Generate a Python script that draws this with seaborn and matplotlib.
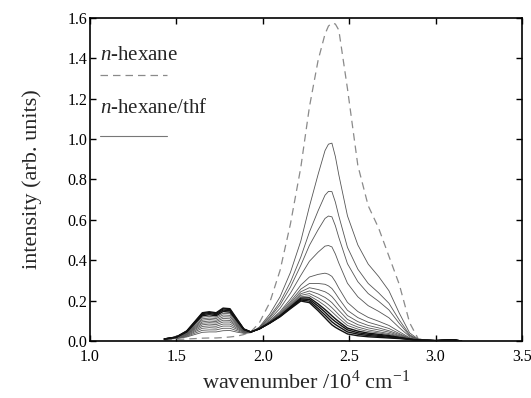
import numpy as np
import pandas as pd
import matplotlib
matplotlib.use("Agg")
import matplotlib.pyplot as plt
import seaborn as sns

# wavenumber grid (10^4 cm^-1)
wavenumber = [1.43, 1.50, 1.56, 1.61, 1.65, 1.69, 1.73, 1.77, 1.81, 1.85, 1.89, 1.93,
              1.98, 2.04, 2.10, 2.16, 2.22, 2.27, 2.32, 2.36, 2.38, 2.40, 2.42, 2.44,
              2.49, 2.55, 2.61, 2.67, 2.73, 2.79, 2.85, 2.90, 3.00, 3.10, 3.15]

# n-hexane (dashed)
hexane = [0.005, 0.008, 0.010, 0.012, 0.014, 0.015, 0.015, 0.017, 0.020, 0.024, 0.032, 0.045,
          0.09, 0.19, 0.35, 0.58, 0.86, 1.16, 1.39, 1.52, 1.56, 1.575, 1.57, 1.54,
          1.25, 0.87, 0.67, 0.56, 0.42, 0.28, 0.09, 0.01, 0.003, 0.0, 0.0]

# n-hexane/thf series (solid), from highest 2.4 peak down to the thick black one
thf_1 = [0.008, 0.012, 0.020, 0.033, 0.043, 0.045, 0.045, 0.051, 0.052, 0.044, 0.038, 0.041,
         0.069, 0.133, 0.219, 0.340, 0.495, 0.667, 0.825, 0.943, 0.975, 0.980, 0.914, 0.823,
         0.620, 0.476, 0.381, 0.320, 0.249, 0.138, 0.040, 0.009, 0.002, 0.006, 0.0]
thf_2 = [0.009, 0.013, 0.023, 0.040, 0.053, 0.055, 0.055, 0.063, 0.063, 0.051, 0.040, 0.042,
         0.067, 0.121, 0.193, 0.292, 0.416, 0.540, 0.645, 0.722, 0.741, 0.740, 0.688, 0.619,
         0.464, 0.356, 0.285, 0.239, 0.187, 0.104, 0.031, 0.007, 0.002, 0.006, 0.0]
thf_3 = [0.009, 0.014, 0.026, 0.047, 0.063, 0.066, 0.064, 0.074, 0.074, 0.058, 0.043, 0.042,
         0.065, 0.115, 0.179, 0.267, 0.375, 0.474, 0.551, 0.607, 0.619, 0.615, 0.571, 0.513,
         0.383, 0.294, 0.235, 0.197, 0.154, 0.087, 0.027, 0.007, 0.002, 0.006, 0.0]
thf_4 = [0.009, 0.015, 0.029, 0.053, 0.072, 0.075, 0.073, 0.084, 0.084, 0.064, 0.045, 0.042,
         0.064, 0.107, 0.162, 0.237, 0.325, 0.395, 0.440, 0.470, 0.473, 0.466, 0.431, 0.386,
         0.286, 0.219, 0.175, 0.147, 0.115, 0.066, 0.022, 0.006, 0.002, 0.006, 0.0]
thf_5 = [0.009, 0.015, 0.032, 0.059, 0.080, 0.084, 0.081, 0.094, 0.094, 0.070, 0.047, 0.043,
         0.062, 0.100, 0.146, 0.208, 0.277, 0.317, 0.330, 0.336, 0.331, 0.320, 0.294, 0.262,
         0.191, 0.146, 0.117, 0.098, 0.077, 0.046, 0.016, 0.005, 0.002, 0.006, 0.0]
thf_6 = [0.009, 0.016, 0.034, 0.064, 0.088, 0.091, 0.089, 0.103, 0.102, 0.075, 0.048, 0.043,
         0.062, 0.097, 0.140, 0.196, 0.257, 0.285, 0.285, 0.281, 0.273, 0.260, 0.237, 0.211,
         0.152, 0.116, 0.093, 0.078, 0.062, 0.037, 0.014, 0.005, 0.002, 0.006, 0.0]
thf_7 = [0.009, 0.016, 0.036, 0.069, 0.095, 0.099, 0.096, 0.112, 0.110, 0.080, 0.050, 0.043,
         0.061, 0.095, 0.135, 0.188, 0.244, 0.264, 0.255, 0.244, 0.234, 0.220, 0.200, 0.177,
         0.126, 0.096, 0.077, 0.065, 0.051, 0.032, 0.013, 0.005, 0.002, 0.006, 0.0]
thf_8 = [0.009, 0.017, 0.039, 0.074, 0.103, 0.107, 0.103, 0.120, 0.119, 0.085, 0.052, 0.044,
         0.061, 0.094, 0.132, 0.182, 0.234, 0.248, 0.233, 0.216, 0.204, 0.190, 0.171, 0.152,
         0.107, 0.081, 0.065, 0.055, 0.044, 0.027, 0.012, 0.005, 0.002, 0.006, 0.0]
thf_9 = [0.010, 0.018, 0.041, 0.079, 0.110, 0.114, 0.111, 0.129, 0.127, 0.090, 0.053, 0.044,
         0.061, 0.092, 0.129, 0.177, 0.226, 0.235, 0.214, 0.193, 0.180, 0.165, 0.148, 0.130,
         0.090, 0.069, 0.055, 0.046, 0.037, 0.024, 0.011, 0.004, 0.002, 0.006, 0.0]
thf_10 = [0.010, 0.018, 0.043, 0.085, 0.118, 0.122, 0.118, 0.137, 0.135, 0.095, 0.055, 0.044,
          0.061, 0.091, 0.127, 0.173, 0.219, 0.224, 0.199, 0.175, 0.160, 0.145, 0.129, 0.113,
          0.077, 0.059, 0.047, 0.040, 0.032, 0.021, 0.010, 0.004, 0.002, 0.006, 0.0]
thf_11 = [0.010, 0.019, 0.045, 0.090, 0.125, 0.130, 0.125, 0.146, 0.143, 0.100, 0.057, 0.044,
          0.060, 0.090, 0.125, 0.169, 0.213, 0.214, 0.184, 0.156, 0.141, 0.125, 0.110, 0.096,
          0.064, 0.049, 0.039, 0.033, 0.027, 0.018, 0.009, 0.004, 0.002, 0.006, 0.0]
thf_12 = [0.010, 0.019, 0.047, 0.094, 0.131, 0.136, 0.131, 0.153, 0.150, 0.104, 0.058, 0.045,
          0.060, 0.090, 0.123, 0.166, 0.208, 0.206, 0.173, 0.143, 0.126, 0.110, 0.096, 0.084,
          0.055, 0.041, 0.033, 0.028, 0.023, 0.016, 0.009, 0.004, 0.002, 0.006, 0.0]
thf_13 = [0.010, 0.020, 0.049, 0.097, 0.136, 0.141, 0.136, 0.159, 0.156, 0.107, 0.059, 0.045,
          0.060, 0.089, 0.122, 0.163, 0.203, 0.198, 0.161, 0.129, 0.112, 0.095, 0.082, 0.071,
          0.045, 0.034, 0.027, 0.023, 0.019, 0.014, 0.008, 0.004, 0.002, 0.006, 0.0]
thf_14 = [0.010, 0.020, 0.050, 0.100, 0.140, 0.145, 0.140, 0.163, 0.160, 0.110, 0.060, 0.045,
          0.060, 0.088, 0.120, 0.160, 0.198, 0.190, 0.150, 0.115, 0.097, 0.080, 0.068, 0.058,
          0.035, 0.026, 0.021, 0.018, 0.015, 0.012, 0.008, 0.004, 0.002, 0.006, 0.0]

thf_curves = [thf_1, thf_2, thf_3, thf_4, thf_5, thf_6, thf_7, thf_8, thf_9, thf_10,
              thf_11, thf_12, thf_13, thf_14]

sns.set_style("ticks")
plt.rcParams["font.family"] = ["Liberation Serif", "DejaVu Serif"]
plt.rcParams["mathtext.fontset"] = "custom"
plt.rcParams["mathtext.rm"] = "Liberation Serif"
plt.rcParams["mathtext.it"] = "Liberation Serif:italic"

fig = plt.figure(figsize=(5.31, 3.98), dpi=100)
ax = fig.add_axes([0.1695, 0.1432, 0.8135, 0.8116])

# dashed n-hexane
sns.lineplot(x=wavenumber, y=hexane, ax=ax, color="#8a8a8a", lw=0.9,
             estimator=None, sort=False, zorder=2)
ax.lines[-1].set_dashes((6, 4))

for i, curve in enumerate(thf_curves):
    if i >= 10:
        col, lw = "#111111", 1.0
    else:
        col, lw = "#555555", 0.6
    sns.lineplot(x=wavenumber, y=curve, ax=ax, color=col, lw=lw,
                 estimator=None, sort=False, zorder=3)

ax.set_xlim(1.0, 3.5)
ax.set_ylim(0.0, 1.6)
ax.set_xticks([1.0, 1.5, 2.0, 2.5, 3.0, 3.5])
ax.set_yticks(np.arange(0, 1.61, 0.2))
ax.xaxis.set_major_formatter(matplotlib.ticker.FormatStrFormatter("%.1f"))
ax.yaxis.set_major_formatter(matplotlib.ticker.FormatStrFormatter("%.1f"))
ax.tick_params(direction="in", top=True, right=True, length=4, width=1,
               labelsize=11.5, colors="black")
ax.tick_params(axis="x", pad=6)
ax.tick_params(axis="y", pad=2)
for sp in ax.spines.values():
    sp.set_linewidth(1.2)
    sp.set_color("black")

ax.set_xlabel(r"wavenumber /10$^{4}$ cm$^{-1}$", fontsize=16, labelpad=4)
ax.set_ylabel("intensity (arb. units)", fontsize=16, labelpad=18)

# in-plot legend: label above its line sample
ax.text(0.023, 0.885, r"$\mathit{n}$-hexane", transform=ax.transAxes,
        fontsize=15, va="center", ha="left")
ax.plot([0.023, 0.178], [0.823, 0.823], transform=ax.transAxes,
        color="#8a8a8a", lw=0.9, dashes=(6, 4))
ax.text(0.023, 0.721, r"$\mathit{n}$-hexane/thf", transform=ax.transAxes,
        fontsize=15, va="center", ha="left")
ax.plot([0.023, 0.178], [0.635, 0.635], transform=ax.transAxes,
        color="#777777", lw=0.8)

fig.savefig("out.png", dpi=100)
